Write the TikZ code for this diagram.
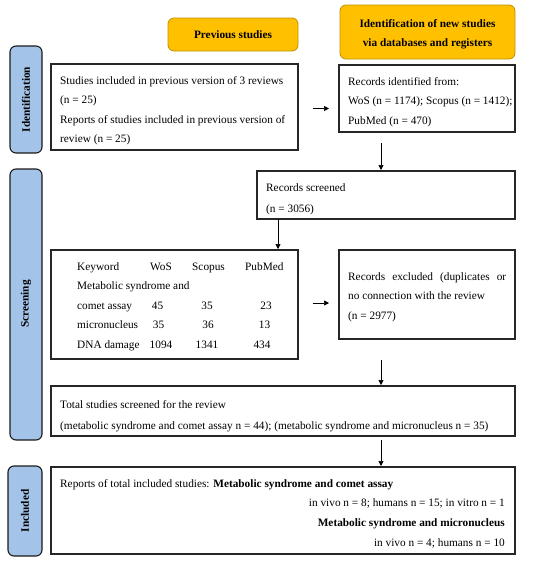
\documentclass[tikz,border=0pt]{standalone}
\usepackage{fontspec}
\setmainfont{Liberation Serif}
\usetikzlibrary{arrows.meta}
\definecolor{hdr}{HTML}{FFC000}
\definecolor{hdrline}{HTML}{C09000}
\definecolor{side}{HTML}{A3C4E8}
\definecolor{sideline}{HTML}{1A1A1A}
\tikzset{
  x=1pt,y=-1pt,
  box/.style={draw=black!85,line width=1.1pt},
  hdrbox/.style={draw=hdrline,fill=hdr,line width=0.8pt,rounded corners=6pt},
  sidebox/.style={draw=sideline,fill=side,line width=1.1pt,rounded corners=6pt},
  txt/.style={inner sep=0pt,anchor=base west,font=\fontsize{11.3}{13}\selectfont},
  txtr/.style={inner sep=0pt,anchor=base east,font=\fontsize{11.3}{13}\selectfont},
  txtc/.style={inner sep=0pt,anchor=base,font=\fontsize{11.3}{13}\selectfont},
  hdrtxt/.style={inner sep=0pt,anchor=base,font=\fontsize{11.3}{13}\selectfont\bfseries},
  sidetxt/.style={inner sep=0pt,rotate=90,font=\fontsize{11.3}{13}\selectfont\bfseries},
  arr/.style={-{Triangle[length=5pt,width=5pt]},line width=0.7pt,black}
}
\begin{document}
\begin{tikzpicture}
\useasboundingbox (0,0) rectangle (550,563);
% headers
\draw[hdrbox] (168,18) rectangle (298,51);
\node[hdrtxt] (hprev) at (233,38.5) {Previous studies};
\draw[hdrbox] (340,5) rectangle (515,59);
\node[hdrtxt] (hnew1) at (427.5,27.5) {Identification of new studies};
\node[hdrtxt] (hnew2) at (427.5,46.5) {via databases and registers};
% side labels
\draw[sidebox] (10,46) rectangle (42,153);
\node[sidetxt] (sid) at (26,99.5) {Identification};
\draw[sidebox] (10,169) rectangle (42,440);
\node[sidetxt] (sscr) at (26,304) {Screening};
\draw[sidebox] (8,466) rectangle (42,556);
\node[sidetxt] (sinc) at (25,511) {Included};
% boxes
\draw[box] (51,64) rectangle (298,150);
\node[txt] at (60,84) {Studies included in previous version of 3 reviews};
\node[txt] at (60,103.5) {(n = 25)};
\node[txt] at (60,123) {Reports of studies included in previous version of};
\node[txt] at (60,142.5) {review (n = 25)};
\draw[box] (339,65) rectangle (515,132);
\node[txt] at (348,85) {Records identified from:};
\node[txt] at (348,104.5) {WoS (n = 1174); Scopus (n = 1412);};
\node[txt] at (348,124) {PubMed (n = 470)};
\coordinate (a1s) at (313,108.5);
\coordinate (a1e) at (329,108.5);
\draw[arr] (a1s) -- (a1e);
\coordinate (a2s) at (381,143);
\coordinate (a2e) at (381,170);
\draw[arr] (a2s) -- (a2e);
\draw[box] (257,171) rectangle (515,219);
\node[txt] at (266,191) {Records screened};
\node[txt] at (266,212) {(n = 3056)};
\coordinate (a3s) at (278,219);
\coordinate (a3e) at (278,249);
\draw[arr] (a3s) -- (a3e);
\draw[box] (51,250) rectangle (298,359);
\node[txt] at (77,270) {Keyword};
\node[txt] at (150,270) {WoS};
\node[txt] at (192,270) {Scopus};
\node[txt] at (245,270) {PubMed};
\node[txt] at (77,289.5) {Metabolic syndrome and};
\node[txt] at (77,309) {comet assay};
\node[txtc] at (157.5,309) {45};
\node[txtc] at (207,309) {35};
\node[txtc] at (266,309) {23};
\node[txt] at (77,328.5) {micronucleus};
\node[txtc] at (158.5,328.5) {35};
\node[txtc] at (208,328.5) {36};
\node[txtc] at (264.5,328.5) {13};
\node[txt] at (77,348.5) {DNA damage};
\node[txtc] at (161,348.5) {1094};
\node[txtc] at (207,348.5) {1341};
\node[txtc] at (262,348.5) {434};
\draw[box] (339,250) rectangle (515,339);
\node[txt] at (348,280) {\makebox[158pt][s]{Records excluded (duplicates or}};
\node[txt] at (348,299.5) {no connection with the review};
\node[txt] at (348,319.5) {(n = 2977)};
\coordinate (a4s) at (313,303);
\coordinate (a4e) at (329,303);
\draw[arr] (a4s) -- (a4e);
\coordinate (a5s) at (381,360);
\coordinate (a5e) at (381,385);
\draw[arr] (a5s) -- (a5e);
\draw[box] (51,386) rectangle (515,436);
\node[txt] at (60,408) {Total studies screened for the review};
\node[txt] at (60,429) {(metabolic syndrome and comet assay n = 44); (metabolic syndrome and micronucleus n = 35)};
\coordinate (a6s) at (381,440);
\coordinate (a6e) at (381,466);
\draw[arr] (a6s) -- (a6e);
\draw[box] (51,467) rectangle (515,554);
\node[txt] at (60,487) {Reports of total included studies: \textbf{Metabolic syndrome and comet assay}};
\node[txtr] at (505,506.5) {in vivo n = 8; humans n = 15; in vitro n = 1};
\node[txtr] at (505,526.5) {\textbf{Metabolic syndrome and micronucleus}};
\node[txtr] at (505,546) {in vivo n = 4; humans n = 10};
\end{tikzpicture}
\end{document}
